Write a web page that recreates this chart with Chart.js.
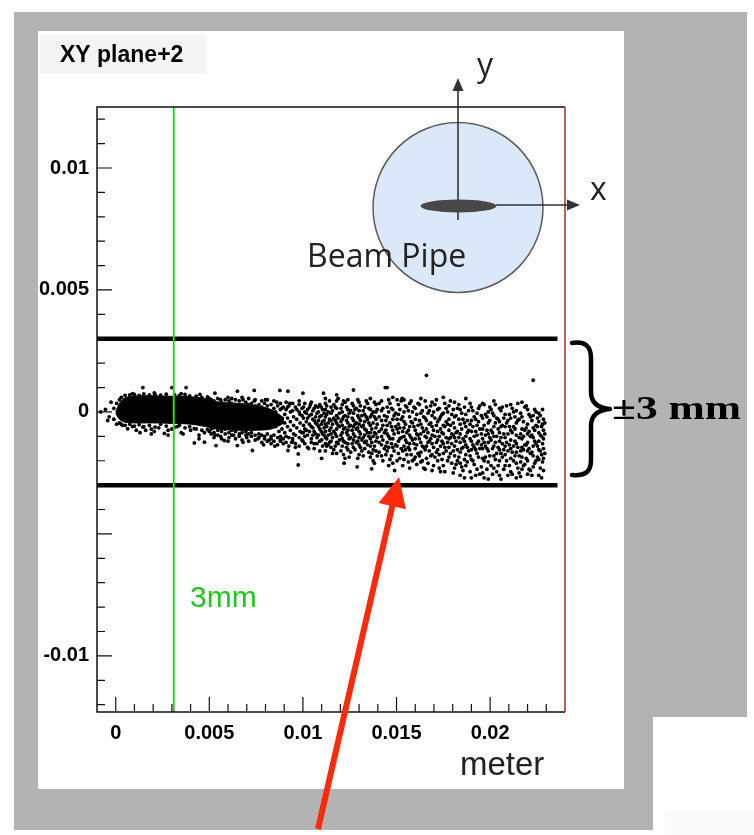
<!DOCTYPE html>
<html>
<head>
<meta charset="utf-8">
<script src="https://cdn.jsdelivr.net/npm/chart.js@4.4.1/dist/chart.umd.min.js"></script>
<style>
  html, body { margin: 0; padding: 0; background: #fff; }
  #wrap { width: 754px; height: 835px; }
</style>
</head>
<body>
<div id="wrap"><canvas id="plot" width="754" height="835"></canvas></div>
<script>
// axis ranges (meter)
const xRange = [-0.001, 0.024];
const yRange = [-0.0123, 0.0125];
const xTicks = [0, 0.005, 0.01, 0.015, 0.02];
const xTickLabels = ['0', '0.005', '0.01', '0.015', '0.02'];
const yTicks = [0.01, 0.005, 0, -0.01];
const yTickLabels = ['0.01', '0.005', '0', '-0.01'];

// +-3 mm limit lines and the 3 mm green marker (meter)
const cutLevels = [0.003, -0.003];
const cutX = [-0.001, 0.0236];
const greenX = 0.0031;

// solid dense core of the hit cloud, outline (mm)
const coreX      = [0.0, 0.2, 0.5, 1.0, 2.0, 3.0, 4.0, 4.8, 5.5, 6.5, 7.5, 8.3, 9.0];
const coreTop    = [0.0, 0.35, 0.58, 0.65, 0.66, 0.64, 0.62, 0.55, 0.4, 0.35, 0.25, 0.1, -0.25];
const coreBottom = [-0.05, -0.3, -0.42, -0.45, -0.45, -0.47, -0.5, -0.6, -0.7, -0.75, -0.75, -0.7, -0.45];

// scattered hits, one row per x (mm): [x, y1, y2, ...]
const hitRows = [
    [-0.8, 0.0], [-0.55, 0.1], [-0.43, -0.35], [-0.35, -0.2], [-0.25, 0.4], [-0.1, 0.15, -0.3],
    [0.05, 0.35, -0.5], [0.2, 0.5, -0.45], [0.35, -0.55], [0.64, -0.69], [0.9, 0.75, -0.6],
    [1.1, -0.75], [1.45, 1.0, -0.62], [1.6, -0.75], [2.06, -0.8, 0.78], [2.3, -0.65], [2.6, -0.88],
    [3.0, 1.0, -0.7], [3.3, -0.6], [3.5, 0.75, -0.85], [3.76, 1.0], [4.0, -0.75], [4.2, -1.27, -0.68],
    [4.5, 0.72], [4.74, -1.24, -0.85], [5.0, 0.55, -0.8], [5.3, 0.77, -0.95], [5.36, -1.38],
    [5.6, 0.5, -1.0], [5.8, -1.17], [6.0, 0.6, -1.2], [6.3, -0.95], [6.5, 0.85, -1.38],
    [6.8, 0.5, -1.24], [7.0, -1.05], [7.3, -1.58], [7.4, 0.88, 0.45], [7.6, -1.1], [7.9, -1.35],
    [8.0, 0.5], [8.2, -1.15], [8.5, -1.4], [8.6, 0.4], [8.77, 0.88], [8.8, -1.2], [9.2, 0.85, -1.58],
    [9.3, 0.35], [9.4, -1.25], [9.6, -1.45], [9.75, -1.72, -2.17], [9.8, 0.45], [10.0, 0.77, -1.2],
    [10.3, -1.5], [10.4, 0.3], [10.6, -1.3], [10.8, 0.2], [11.0, -1.15, -1.9], [11.1, 0.77],
    // ragged edges of the core
    [0.3, 0.6, -0.5], [0.5, 0.68, -0.55], [0.75, 0.7, -0.5], [1.0, 0.72, -0.58], [1.25, 0.68, -0.52],
    [1.3, -0.85], [1.5, 0.74, -0.6], [1.8, 0.7, -0.55], [1.9, -0.7, -0.9], [2.1, 0.72, -0.62],
    [2.4, 0.69, -0.5], [2.7, 0.73, -0.58], [2.8, -0.75, -0.95], [3.15, 0.7, -0.62], [3.4, 0.68, -0.55],
    [3.6, -0.9], [3.7, 0.72, -0.65], [3.95, 0.66, -0.6], [4.3, 0.65, -0.7], [4.45, -0.95, -1.1],
    [4.6, 0.6, -0.75], [4.9, 0.62, -0.72],
    [5.1, 0.5, 0.3, -0.7, -0.9], [5.25, 0.45, -0.65, -0.85, -1.05], [5.45, 0.55, 0.35, -0.75, -0.95],
    [5.65, 0.4, -0.8, -1.1], [5.85, 0.5, 0.3, -0.7, -0.9], [6.05, 0.45, -0.85, -1.05],
    [6.2, 0.35, 0.55, -0.75, -0.95], [6.4, 0.5, 0.3, -0.8, -1.1], [6.6, 0.45, -0.9, -1.0],
    [6.75, 0.3, 0.6, -0.85, -1.15], [6.95, 0.4, -0.8, -0.95], [7.1, 0.55, 0.3, -0.9, -1.2],
    [7.25, 0.35, -0.85, -1.0], [7.45, 0.5, 0.25, -0.95, -1.15], [7.65, 0.3, -0.9, -1.05],
    [7.8, 0.45, 0.2, -0.95, -1.25], [7.95, 0.35, -1.0, -1.1], [8.1, 0.25, 0.5, -0.9, -1.2],
    [8.3, 0.3, -1.0, -1.1, -1.3], [8.45, 0.45, 0.15, -0.95, -1.2], [8.65, 0.25, -1.05, -1.35],
    [8.8, 0.35, 0.1, -1.0, -1.15], [8.95, 0.2, -1.1, -1.3], [9.1, 0.4, 0.1, -1.0, -1.25],
    [9.25, 0.25, -1.05, -1.4], [9.45, 0.35, 0.05, -1.1, -1.2], [9.6, 0.2, -0.95, -1.3],
    [9.8, 0.3, 0.0, -1.05, -1.4], [9.95, 0.15, -0.15, -0.85, -1.15], [10.1, 0.35, 0.0, -0.7, -1.0, -1.3],
    [10.25, 0.1, -0.25, -0.95, -1.45], [10.45, 0.4, -0.1, -0.6, -1.1, -1.25],
    [10.6, 0.15, -0.35, -0.8, -1.5], [10.75, -0.05, -0.5, -1.05, -1.3],
    [10.9, 0.3, -0.2, -0.7, -1.2, -1.6], [11.05, 0.1, -0.4, -0.9, -1.4],
    // where the core breaks up
    [8.55, 0.0, -0.3, -0.6], [8.72, -0.2, -0.5, -0.8], [8.88, 0.15, -0.35, -0.7],
    [9.03, -0.1, -0.45, -0.85], [9.18, 0.2, -0.25, -0.6], [9.33, 0.0, -0.4, -0.75],
    [9.5, -0.2, -0.55, -0.9], [9.67, 0.1, -0.3, -0.65], [9.85, -0.1, -0.45, -0.8],
    [10.03, 0.2, -0.25, -0.55, -0.85], [10.18, -0.05, -0.4, -0.75], [10.35, 0.2, -0.15, -0.5, -0.8],
    [10.53, 0.05, -0.3, -0.65, -0.95], [10.68, 0.25, -0.2, -0.45, -0.9], [10.83, 0.0, -0.35, -0.6, -0.95],
    [10.98, 0.2, -0.15, -0.5, -0.8], [11.13, -0.05, -0.35, -0.65, -0.95],
    // speckled tail
    [11.2, 0.35, 0.1, -0.2, -0.5, -0.8, -1.05, -1.3, 0.55, -1.6],
    [11.27, 0.25, -0.1, -0.6, -1.1, -1.4],
    [11.35, 0.0, -0.45, -0.95, -1.35],
    [11.42, 0.45, -0.3, -0.75, -1.25],
    [11.5, 0.2, -0.05, -0.35, -0.65, -0.9, -1.2, -1.45],
    [11.58, 0.05, -0.5, -1.05, -1.7],
    [11.65, 0.3, -0.25, -0.8, -1.55],
    [11.73, 0.2, -0.35, -0.9, -1.4],
    [11.8, 0.7, 0.45, 0.15, -0.15, -0.45, -0.7, -1.0, -1.25, -1.7],
    [11.88, 0.55, -0.25, -0.55, -1.3],
    [11.95, -0.05, -0.6, -1.15],
    [12.03, 0.15, -0.4, -0.95, -1.6],
    [12.1, 0.3, 0.0, -0.3, -0.55, -0.85, -1.1, -1.4],
    [12.17, 0.45, -0.2, -0.7, -1.2, -1.75],
    [12.2, -2.1],
    [12.25, 0.4, -0.15, -0.65, -1.25, -1.9],
    [12.33, 0.2, -0.35, -0.85, -1.45],
    [12.4, 0.5, 0.1, -0.2, -0.45, -0.75, -0.95, -1.3, -1.55],
    [12.47, -0.05, -0.6, -1.1, -1.85],
    [12.55, 0.05, -0.55, -1.05, -1.65],
    [12.63, 0.35, -0.25, -0.75, -1.3],
    [12.7, 0.25, -0.05, -0.35, -0.6, -0.9, -1.15, -1.45, 0.9],
    [12.78, 0.1, -0.5, -1.0, -1.55],
    [12.85, 0.15, -0.45, -0.7, -1.25],
    [12.9, -2.25],
    [12.93, 0.5, -0.15, -0.65, -1.2, -1.9],
    [13.0, 0.4, 0.05, -0.25, -0.5, -0.8, -1.05, -1.35, -1.75],
    [13.07, 0.25, -0.35, -0.9, -1.45],
    [13.15, -0.15, -0.6, -1.15, -1.6],
    [13.22, 0.05, -0.55, -1.05, -1.8],
    [13.3, 0.2, -0.1, -0.4, -0.7, -0.95, -1.25, -1.5],
    [13.38, 0.45, -0.2, -0.75, -1.2],
    [13.45, 0.35, -0.3, -0.85, -1.35],
    [13.52, 0.15, -0.45, -1.0, -1.65],
    [13.6, 0.55, 0.1, -0.2, -0.55, -0.85, -1.1, -1.4, -1.85],
    [13.67, -2.33],
    [13.68, -0.1, -0.7, -1.25, -1.7],
    [13.75, 0.0, -0.45, -1.0, -1.55, -2.0],
    [13.82, 0.4, -0.2, -0.85, -1.4, -2.1],
    [13.9, 0.3, 0.0, -0.3, -0.65, -0.9, -1.2, -1.6],
    [13.97, 0.1, -0.5, -1.05, -1.8],
    [14.07, 0.35, -0.2, -0.8, -1.25, -1.65],
    [14.2, 0.45, 0.05, -0.35, -0.7, -1.0, -1.35, -1.8],
    [14.27, 0.15, -0.55, -1.15, -2.0],
    [14.35, -0.15, -0.85, -1.5],
    [14.4, 1.0],
    [14.43, -0.35, -0.75, -1.4, -1.75],
    [14.5, 0.2, -0.2, -0.55, -0.9, -1.25, -1.6, 1.0],
    [14.58, 0.5, 0.0, -1.0, -1.45, -2.2],
    [14.65, 0.35, -0.45, -1.1, -1.95],
    [14.73, 0.15, -0.6, -1.3, -1.8],
    [14.8, 0.6, 0.1, -0.3, -0.75, -1.1, -1.45, -2.1],
    [14.87, -0.15, -0.9, -1.6],
    [14.9, -2.4],
    [14.95, -0.05, -0.6, -1.35],
    [15.03, 0.5, -0.3, -0.7, -1.4, -2.0],
    [15.1, 0.3, -0.1, -0.5, -0.85, -1.2, -1.7],
    [15.18, 0.1, -0.65, -1.1, -1.9],
    [15.25, 0.45, -0.3, -1.05, -1.5],
    [15.3, 0.55],
    [15.33, -0.2, -0.8, -1.6, -2.2],
    [15.4, 0.0, -0.4, -0.65, -1.0, -1.4, -1.95, 0.5],
    [15.48, 0.25, -0.5, -1.15, -1.55],
    [15.55, 0.2, -0.85, -1.25, -1.75],
    [15.63, 0.05, -0.75, -1.45, -2.05],
    [15.7, 0.35, -0.2, -0.6, -0.95, -1.3, -1.55, -2.3],
    [15.78, 0.45, -0.4, -1.05, -1.75],
    [15.85, 0.0, -0.45, -1.15, -2.0],
    [15.93, 0.2, -0.6, -1.3, -1.95],
    [16.0, 0.15, -0.3, -0.75, -1.1, -1.5, -1.85],
    [16.08, -0.1, -0.9, -1.35, -2.15],
    [16.15, 0.35, -0.55, -0.95, -1.7],
    [16.22, 0.3, -0.35, -1.1, -1.8],
    [16.3, 0.55, -0.05, -0.5, -0.9, -1.25, -1.65, -2.05],
    [16.38, 0.05, -0.65, -1.4, -2.0],
    [16.45, -0.2, -0.8, -1.45, -2.3],
    [16.53, 0.45, -0.25, -1.0, -1.55, -2.35],
    [16.6, 1.5, 0.2, -0.35, -0.7, -1.05, -1.4, -1.9],
    [16.68, -0.05, -0.85, -1.25, -2.1],
    [16.75, 0.05, -0.5, -1.2, -1.6],
    [16.83, 0.25, -0.45, -1.1, -1.8],
    [16.9, 0.4, -0.15, -0.6, -0.95, -1.3, -1.75, -2.4],
    [16.98, 0.0, -0.75, -1.45, -2.2],
    [17.05, 0.3, -0.25, -1.0, -1.85],
    [17.13, 0.5, -0.55, -1.25, -1.65],
    [17.2, 0.1, -0.4, -0.8, -1.15, -1.55, -2.0],
    [17.28, 0.15, -0.3, -1.0, -1.75, -2.3],
    [17.35, -0.2, -0.7, -1.4, -2.45],
    [17.43, -0.1, -0.85, -1.2, -1.95],
    [17.5, 0.6, -0.05, -0.55, -0.9, -1.3, -1.7, -2.2],
    [17.58, 0.35, -0.6, -1.45, -2.45],
    [17.65, 0.15, -0.4, -1.05, -1.6],
    [17.73, 0.0, -0.5, -1.25, -2.0],
    [17.8, 0.25, -0.3, -0.75, -1.1, -1.45, -1.85],
    [17.88, 0.45, -0.55, -1.05, -1.7],
    [17.95, -0.1, -0.9, -1.3, -2.1],
    [18.03, 0.1, -0.45, -0.95, -1.6, -2.5],
    [18.1, 0.4, -0.2, -0.65, -1.05, -1.4, -1.8, -2.3],
    [18.18, -0.15, -0.85, -1.2, -2.15],
    [18.25, 0.15, -0.8, -1.55, -2.0],
    [18.33, 0.3, -0.3, -1.05, -1.85],
    [18.4, 0.1, -0.5, -0.9, -1.25, -1.65, -2.1, -2.6],
    [18.48, -0.05, -0.7, -1.5, -2.25],
    [18.55, -0.3, -1.1, -1.45, -2.4],
    [18.63, 0.2, -0.45, -1.2, -1.95, -2.7],
    [18.7, 0.55, -0.1, -0.6, -1.0, -1.35, -1.75, -2.2],
    [18.78, -0.35, -0.85, -1.45, -2.05],
    [18.85, 0.05, -0.75, -1.6],
    [18.93, 0.35, -0.5, -1.1, -1.8, -2.45],
    [19.0, 0.2, -0.35, -0.8, -1.2, -1.55, -1.95, -2.7],
    [19.08, 0.05, -0.6, -1.35, -2.0],
    [19.15, -0.2, -1.0, -1.45, -2.15],
    [19.23, -0.3, -0.8, -1.55, -2.6],
    [19.3, -0.05, -0.55, -0.95, -1.3, -1.7, -2.35],
    [19.38, 0.15, -0.4, -1.2, -1.85],
    [19.45, 0.25, -0.7, -1.5, -2.55],
    [19.53, -0.15, -0.9, -1.35, -2.25],
    [19.6, 0.35, -0.25, -0.7, -1.1, -1.5, -1.9, -2.5],
    [19.68, 0.3, -0.55, -1.25, -2.0, -2.7],
    [19.75, -0.1, -0.95, -1.4, -1.85],
    [19.83, -0.2, -0.75, -1.5, -2.35],
    [19.9, 0.0, -0.45, -0.9, -1.25, -1.6, -2.05, -2.75],
    [19.98, 0.2, -0.35, -1.05, -1.8],
    [20.05, 0.1, -0.75, -1.15, -2.2],
    [20.13, -0.05, -0.85, -1.5, -2.55],
    [20.2, 0.45, -0.15, -0.6, -1.0, -1.4, -1.8, -2.3],
    [20.28, 0.3, -0.45, -1.25, -1.95],
    [20.35, -0.25, -1.0, -1.7, -2.45],
    [20.43, -0.3, -0.7, -1.45, -2.2],
    [20.5, 0.15, -0.4, -0.85, -1.2, -1.55, -2.0, -2.6],
    [20.58, 0.05, -0.6, -1.05, -1.7, -2.75],
    [20.65, 0.2, -0.55, -1.3, -1.85],
    [20.73, -0.25, -0.9, -1.55, -2.35],
    [20.8, -0.1, -0.6, -1.05, -1.4, -1.75, -2.2],
    [20.88, 0.25, -0.45, -1.25, -2.0],
    [20.95, -0.35, -0.9, -1.6, -2.6],
    [21.03, -0.1, -0.6, -1.35, -2.2],
    [21.1, 0.3, -0.25, -0.75, -1.15, -1.5, -1.9, -2.45],
    [21.18, 0.15, -0.85, -1.65, -2.55],
    [21.25, 0.0, -0.6, -1.4, -2.0],
    [21.33, -0.2, -0.7, -1.2, -1.8],
    [21.4, 0.05, -0.45, -0.95, -1.3, -1.65, -2.1, -2.7],
    [21.48, 0.35, -0.35, -1.45, -2.3],
    [21.55, -0.3, -1.05, -1.8, -2.5],
    [21.63, -0.05, -0.9, -1.6, -2.05, -2.65],
    [21.7, 0.4, -0.2, -0.7, -1.1, -1.45, -1.85, -2.35],
    [21.78, -0.4, -1.0, -1.55, -2.2],
    [21.85, 0.2, -0.75, -1.35, -2.15],
    [21.93, 0.25, -0.65, -1.35, -1.9],
    [22.0, 0.1, -0.5, -0.9, -1.25, -1.6, -2.0, -2.55],
    [22.08, -0.1, -0.8, -1.5, -2.35],
    [22.15, -0.2, -1.0, -1.7, -2.4],
    [22.23, -0.35, -0.95, -1.65, -2.6],
    [22.3, 1.3, -0.15, -0.65, -1.05, -1.4, -1.8, -2.25],
    [22.38, 0.1, -0.75, -1.2, -2.1],
    [22.45, 0.0, -0.55, -1.3, -2.0],
    [22.53, -0.25, -0.6, -1.4, -1.85],
    [22.6, -0.05, -0.4, -0.85, -1.2, -1.55, -1.95, -2.6],
    [22.68, -0.15, -0.95, -1.6, -2.3],
    [22.75, -0.6, -1.0, -1.75, -2.7],
    [22.8, 0.1, -0.5, -1.3, -2.05],
    [22.85, -0.3, -0.75, -1.1, -1.5, -1.9, -2.4],
    [22.92, -0.45, -0.9, -1.7]
];

const MM = 0.001;

const hitPoints = [];
hitRows.forEach(row => {
    row.slice(1).forEach(y => hitPoints.push({ x: row[0] * MM, y: y * MM }));
});
const corePts = (ys) => coreX.map((x, i) => ({ x: x * MM, y: ys[i] * MM }));

function px(chart, v) { return chart.scales.x.getPixelForValue(v); }
function py(chart, v) { return chart.scales.y.getPixelForValue(v); }

const slidePlugin = {
    id: 'slide',
    beforeDraw(chart) {
        const ctx = chart.ctx;
        ctx.save();
        ctx.fillStyle = '#ffffff';
        ctx.fillRect(0, 0, 754, 835);
        // grey slide frame
        ctx.fillStyle = '#b3b3b3';
        ctx.fillRect(14, 12, 733, 705);
        ctx.fillRect(14, 717, 639, 113);
        // white picture panel
        ctx.fillStyle = '#ffffff';
        ctx.fillRect(38, 31, 586, 758);
        ctx.fillStyle = '#fafafa';
        ctx.fillRect(665, 811, 89, 24);
        // title box
        ctx.fillStyle = '#f4f4f4';
        ctx.fillRect(40, 34, 166, 40);
        ctx.fillStyle = '#000';
        ctx.font = 'bold 23px "Liberation Sans", Arial, sans-serif';
        ctx.textBaseline = 'alphabetic';
        ctx.fillText('XY plane+2', 60, 62);
        ctx.restore();
    },
    afterDraw(chart) {
        const ctx = chart.ctx;
        const a = chart.chartArea;
        ctx.save();

        // frame: black left/top/bottom, red right edge
        ctx.lineWidth = 1.5;
        ctx.strokeStyle = '#111';
        ctx.beginPath();
        ctx.moveTo(a.right, a.top); ctx.lineTo(a.left, a.top);
        ctx.lineTo(a.left, a.bottom); ctx.lineTo(a.right, a.bottom);
        ctx.stroke();
        ctx.strokeStyle = '#b5281c';
        ctx.beginPath();
        ctx.moveTo(a.right, a.top); ctx.lineTo(a.right, a.bottom);
        ctx.stroke();

        // inward ticks
        ctx.strokeStyle = '#111';
        ctx.lineWidth = 1.2;
        ctx.beginPath();
        for (let k = -12; k <= 12; k++) {
            const y = py(chart, k * MM);
            const len = (k % 5 === 0) ? 15 : 8;
            ctx.moveTo(a.left, y); ctx.lineTo(a.left + len, y);
        }
        for (let k = 0; k <= 23; k++) {
            const x = px(chart, k * MM);
            const len = (k % 5 === 0) ? 15 : 8;
            ctx.moveTo(x, a.bottom); ctx.lineTo(x, a.bottom - len);
        }
        ctx.stroke();

        // tick labels
        ctx.fillStyle = '#000';
        ctx.font = 'bold 20px "Liberation Sans", Arial, sans-serif';
        ctx.textAlign = 'right';
        ctx.textBaseline = 'middle';
        yTicks.forEach((v, i) => ctx.fillText(yTickLabels[i], 89, py(chart, v)));
        ctx.textAlign = 'center';
        xTicks.forEach((v, i) => ctx.fillText(xTickLabels[i], px(chart, v), 733));

        ctx.textAlign = 'left';
        ctx.textBaseline = 'alphabetic';
        ctx.font = '33px "Liberation Sans", Arial, sans-serif';
        ctx.fillStyle = '#222';
        ctx.fillText('meter', 460, 775);

        ctx.font = '30px "Liberation Sans", Arial, sans-serif';
        ctx.fillStyle = '#22c422';
        ctx.fillText('3mm', 190, 607);

        // beam pipe sketch
        ctx.beginPath();
        ctx.arc(458, 207.5, 85, 0, Math.PI * 2);
        ctx.fillStyle = '#dae8f9';
        ctx.fill();
        ctx.lineWidth = 1.5;
        ctx.strokeStyle = '#5a5a5a';
        ctx.stroke();

        ctx.strokeStyle = '#333';
        ctx.fillStyle = '#333';
        ctx.lineWidth = 1.6;
        ctx.beginPath();
        ctx.moveTo(458, 220); ctx.lineTo(458, 88);
        ctx.stroke();
        ctx.beginPath();
        ctx.moveTo(458, 78); ctx.lineTo(452.5, 91); ctx.lineTo(463.5, 91); ctx.closePath();
        ctx.fill();

        ctx.beginPath();
        ctx.ellipse(458.5, 206, 38, 6.5, 0, 0, Math.PI * 2);
        ctx.fillStyle = '#484848';
        ctx.fill();

        ctx.fillStyle = '#333';
        ctx.beginPath();
        ctx.moveTo(496, 205); ctx.lineTo(570, 205);
        ctx.stroke();
        ctx.beginPath();
        ctx.moveTo(580, 205); ctx.lineTo(567, 199.5); ctx.lineTo(567, 210.5); ctx.closePath();
        ctx.fill();

        ctx.fillStyle = '#222';
        ctx.font = '32px "Open Sans", sans-serif';
        ctx.fillText('y', 477, 76);
        ctx.fillText('x', 590, 200);
        ctx.fillText('Beam Pipe', 307, 267);

        // brace and +-3 mm note
        ctx.strokeStyle = '#000';
        ctx.lineWidth = 4.5;
        ctx.lineCap = 'round';
        ctx.lineJoin = 'round';
        ctx.beginPath();
        ctx.moveTo(572, 343);
        ctx.bezierCurveTo(585, 341, 591, 346, 591, 358);
        ctx.lineTo(591, 392);
        ctx.bezierCurveTo(591, 402, 597, 408, 610, 409);
        ctx.bezierCurveTo(597, 410, 591, 416, 591, 426);
        ctx.lineTo(591, 460);
        ctx.bezierCurveTo(591, 472, 585, 476, 572, 475);
        ctx.stroke();

        ctx.save();
        ctx.translate(612, 419);
        ctx.scale(1.32, 1);
        ctx.fillStyle = '#000';
        ctx.font = 'bold 33px "Liberation Serif", "Times New Roman", serif';
        ctx.fillText('\u00b13 mm', 0, 0);
        ctx.restore();

        // red arrow
        ctx.strokeStyle = '#ff2a0a';
        ctx.fillStyle = '#ff2a0a';
        ctx.lineWidth = 6;
        ctx.lineCap = 'butt';
        ctx.beginPath();
        ctx.moveTo(318, 829); ctx.lineTo(393, 503);
        ctx.stroke();
        ctx.beginPath();
        ctx.moveTo(399, 477); ctx.lineTo(378.6, 503.1); ctx.lineTo(405.9, 509.3); ctx.closePath();
        ctx.fill();

        ctx.restore();
    }
};

new Chart(document.getElementById('plot'), {
    type: 'scatter',
    data: {
        datasets: [
            {
                label: 'green 3 mm',
                data: [{ x: greenX, y: yRange[0] }, { x: greenX, y: yRange[1] }],
                showLine: true, borderColor: '#2ad52a', borderWidth: 2, pointRadius: 0, order: 0
            },
            {
                label: '+3 mm',
                data: [{ x: cutX[0], y: cutLevels[0] }, { x: cutX[1], y: cutLevels[0] }],
                showLine: true, borderColor: '#000', borderWidth: 4.5, pointRadius: 0, order: 1
            },
            {
                label: '-3 mm',
                data: [{ x: cutX[0], y: cutLevels[1] }, { x: cutX[1], y: cutLevels[1] }],
                showLine: true, borderColor: '#000', borderWidth: 4.5, pointRadius: 0, order: 1
            },
            {
                label: 'hits',
                data: hitPoints,
                pointRadius: 1.9, pointBorderWidth: 0, backgroundColor: '#000', order: 2
            },
            {
                label: 'core top',
                data: corePts(coreTop),
                showLine: true, fill: '+1', backgroundColor: '#000', borderColor: '#000',
                borderWidth: 1, tension: 0.3, pointRadius: 0, order: 3
            },
            {
                label: 'core bottom',
                data: corePts(coreBottom),
                showLine: true, backgroundColor: '#000', borderColor: '#000',
                borderWidth: 1, tension: 0.3, pointRadius: 0, order: 3
            }
        ]
    },
    options: {
        responsive: false,
        animation: false,
        devicePixelRatio: 1,
        layout: { padding: { left: 97, top: 107, right: 189, bottom: 123 } },
        plugins: { legend: { display: false }, tooltip: { enabled: false } },
        scales: {
            x: { type: 'linear', display: false, min: xRange[0], max: xRange[1] },
            y: { type: 'linear', display: false, min: yRange[0], max: yRange[1] }
        }
    },
    plugins: [slidePlugin]
});
</script>
</body>
</html>
